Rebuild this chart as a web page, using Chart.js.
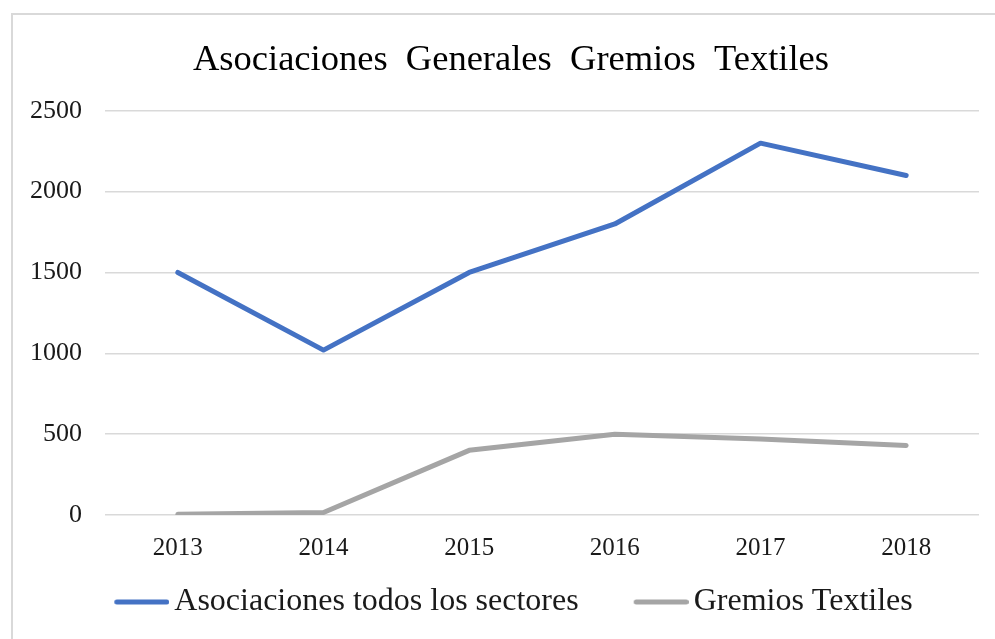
<!DOCTYPE html>
<html>
<head>
<meta charset="utf-8">
<script src="https://cdn.jsdelivr.net/npm/chart.js@4/dist/chart.umd.min.js"></script>
<style>
  html, body { margin: 0; padding: 0; background: #ffffff; overflow: hidden; }
  #wrap { position: relative; width: 995px; height: 639px; }
  #frame { position: absolute; left: 11px; top: 13px; width: 1200px; height: 1200px;
           border: 2px solid #d9d9d9; box-sizing: border-box; }
  canvas { position: absolute; left: 0; top: 0; }
</style>
</head>
<body>
<div id="wrap">
  <div id="frame"></div>
  <canvas id="c" width="995" height="639"></canvas>
</div>
<script>
const chartTitle = 'Asociaciones  Generales  Gremios  Textiles';
const years = ['2013', '2014', '2015', '2016', '2017', '2018'];
const seriesNames = ['Asociaciones todos los sectores', 'Gremios Textiles'];
const asociacionesTodos = [1500, 1020, 1500, 1800, 2300, 2100];
const gremiosTextiles = [5, 15, 400, 500, 470, 430];
const yTicks = [0, 500, 1000, 1500, 2000, 2500];
const yTickLabels = ['0', '500', '1000', '1500', '2000', '2500'];

const colors = ['#4472C4', '#A5A5A5'];
const serif = "'Liberation Serif', 'Times New Roman', serif";
const textColor = '#1a1a1a';

// legend icon: a 55px round-capped line sitting at the right end of a 71px image
function makeIcon(color) {
  const cv = document.createElement('canvas');
  cv.width = 71; cv.height = 8;
  const g = cv.getContext('2d');
  g.strokeStyle = color; g.lineWidth = 5; g.lineCap = 'round';
  g.beginPath(); g.moveTo(18.5, 4); g.lineTo(68.5, 4); g.stroke();
  return cv;
}
const icons = colors.map(makeIcon);

new Chart(document.getElementById('c'), {
  type: 'line',
  data: {
    labels: years,
    datasets: [
      { label: seriesNames[0], data: asociacionesTodos, borderColor: colors[0], backgroundColor: colors[0],
        borderWidth: 5, pointRadius: 0, tension: 0, borderCapStyle: 'round', borderJoinStyle: 'round' },
      { label: seriesNames[1], data: gremiosTextiles, borderColor: colors[1], backgroundColor: colors[1],
        borderWidth: 5, pointRadius: 0, tension: 0, borderCapStyle: 'round', borderJoinStyle: 'round' }
    ]
  },
  options: {
    responsive: false,
    animation: false,
    devicePixelRatio: 1,
    layout: { padding: { left: 30, right: 3, top: 14, bottom: 11 } },
    plugins: {
      tooltip: { enabled: false },
      title: {
        display: true,
        text: chartTitle,
        color: '#000000',
        font: { family: serif, size: 36.5, weight: 'normal', lineHeight: 1.2 },
        padding: { top: 25, bottom: 28 }
      },
      legend: {
        position: 'bottom',
        labels: {
          usePointStyle: true,
          pointStyleWidth: 49,
          padding: 50,
          color: textColor,
          font: { family: serif, size: 32 },
          generateLabels: (chart) => Chart.defaults.plugins.legend.labels.generateLabels(chart)
            .map((l, i) => Object.assign(l, { pointStyle: icons[i] }))
        }
      }
    },
    scales: {
      x: {
        offset: true,
        grid: { display: false, drawTicks: false },
        border: { display: false },
        ticks: { color: textColor, font: { family: serif, size: 25 }, mirror: true, padding: -48 },
        afterFit: (s) => { s.height = 21; }
      },
      y: {
        min: 0, max: 2500,
        grid: { color: '#d9d9d9', lineWidth: 1.5, drawTicks: false },
        border: { display: false },
        afterBuildTicks: (s) => { s.ticks = yTicks.map(v => ({ value: v })); },
        ticks: {
          color: textColor, font: { family: serif, size: 26 }, padding: 23,
          callback: (v, i) => yTickLabels[i]
        },
        afterFit: (s) => { s.width = 75; }
      },
      y2: {
        type: 'linear',
        position: 'right',
        display: true,
        grid: { display: false, drawTicks: false },
        border: { display: false },
        ticks: { display: false },
        afterFit: (s) => { s.width = 13; }
      }
    }
  }
});
</script>
</body>
</html>
